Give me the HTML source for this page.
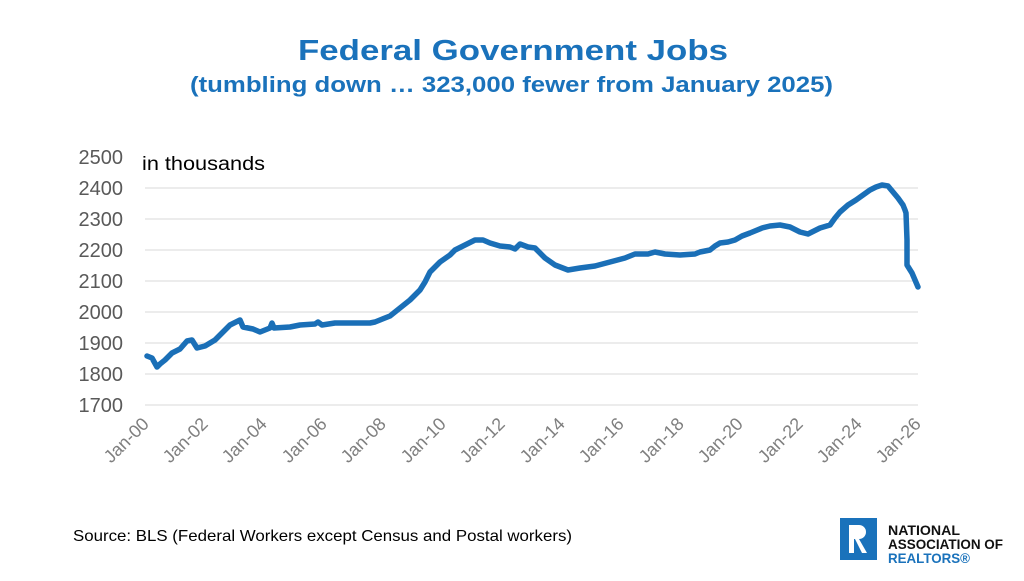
<!DOCTYPE html>
<html><head><meta charset="utf-8"><style>
body{margin:0;background:#fff;width:1024px;height:576px;overflow:hidden;font-family:"Liberation Sans",sans-serif}
</style></head><body>
<svg width="1024" height="576" viewBox="0 0 1024 576" xmlns="http://www.w3.org/2000/svg" font-family="Liberation Sans, sans-serif">
<text x="298" y="60" font-size="29" font-weight="bold" fill="#1a72bb" textLength="430" lengthAdjust="spacingAndGlyphs">Federal Government Jobs</text>
<text x="190" y="92" font-size="22" font-weight="bold" fill="#1a72bb" textLength="643" lengthAdjust="spacingAndGlyphs">(tumbling down … 323,000 fewer from January 2025)</text>
<g stroke="#d9d9d9" stroke-width="1">
<line x1="145" y1="188" x2="918" y2="188"/><line x1="145" y1="219" x2="918" y2="219"/>
<line x1="145" y1="250" x2="918" y2="250"/><line x1="145" y1="281" x2="918" y2="281"/>
<line x1="145" y1="312" x2="918" y2="312"/><line x1="145" y1="343" x2="918" y2="343"/>
<line x1="145" y1="374" x2="918" y2="374"/><line x1="145" y1="405" x2="918" y2="405"/>
</g>
<g font-size="20" fill="#595959" text-anchor="end">
<text x="123" y="164">2500</text><text x="123" y="195">2400</text><text x="123" y="226">2300</text>
<text x="123" y="257">2200</text><text x="123" y="288">2100</text><text x="123" y="319">2000</text>
<text x="123" y="350">1900</text><text x="123" y="381">1800</text><text x="123" y="412">1700</text>
</g>
<text x="142" y="170" font-size="19" fill="#000" textLength="123" lengthAdjust="spacingAndGlyphs">in thousands</text>
<g font-size="18" fill="#7f7f7f" text-anchor="end">
<text transform="translate(150,425) rotate(-45)">Jan-00</text>
<text transform="translate(209,425) rotate(-45)">Jan-02</text>
<text transform="translate(268,425) rotate(-45)">Jan-04</text>
<text transform="translate(328,425) rotate(-45)">Jan-06</text>
<text transform="translate(387,425) rotate(-45)">Jan-08</text>
<text transform="translate(447,425) rotate(-45)">Jan-10</text>
<text transform="translate(506,425) rotate(-45)">Jan-12</text>
<text transform="translate(566,425) rotate(-45)">Jan-14</text>
<text transform="translate(625,425) rotate(-45)">Jan-16</text>
<text transform="translate(685,425) rotate(-45)">Jan-18</text>
<text transform="translate(744,425) rotate(-45)">Jan-20</text>
<text transform="translate(804,425) rotate(-45)">Jan-22</text>
<text transform="translate(863,425) rotate(-45)">Jan-24</text>
<text transform="translate(922,425) rotate(-45)">Jan-26</text>
</g>
<polyline fill="none" stroke="#1a6fb7" stroke-width="5.5" stroke-linejoin="round" stroke-linecap="round" points="147,356 152,358 157,367 160,364 165,360 172,353 180,349 187,341 192,340 197,348 205,346 215,340 225,330 230,325 240,320 243,327 253,329 260,332 270,328 272,323 274,328 290,327 300,325 315,324 318,322 322,325 335,323 360,323 370,323 375,322 390,316 400,308 410,300 420,290 425,282 430,272 440,262 450,255 455,250 465,245 475,240 483,240 490,243 500,246 510,247 515,249 520,244 528,247 535,248 545,258 555,265 568,270 580,268 595,266 610,262 625,258 635,254 648,254 655,252 665,254 680,255 695,254 700,252 710,250 715,246 720,243 728,242 735,240 742,236 750,233 762,228 770,226 780,225 790,227 800,232 808,234 812,232 820,228 830,225 835,218 840,212 848,205 856,200 863,195 870,190 876,187 882,185 888,186 893,192 898,198 903,205 905,210 906,213 907,240 907,265 912,273 915,280 918,287"/>
<text x="73" y="541" font-size="16" fill="#000" textLength="499" lengthAdjust="spacingAndGlyphs">Source: BLS (Federal Workers except Census and Postal workers)</text>
<rect x="840" y="518" width="37" height="42" fill="#1a72bb"/>
<path d="M849 525 h10 a7 7 0 0 1 0 14 l8 14 h-5 l-7 -14 h-1 v14 h-5z" fill="#fff"/>
<text x="888" y="535" font-size="14" font-weight="bold" fill="#111" textLength="72" lengthAdjust="spacingAndGlyphs">NATIONAL</text>
<text x="888" y="549" font-size="14" font-weight="bold" fill="#111" textLength="115" lengthAdjust="spacingAndGlyphs">ASSOCIATION OF</text>
<text x="888" y="563" font-size="14" font-weight="bold" fill="#1a72bb" textLength="82" lengthAdjust="spacingAndGlyphs">REALTORS®</text>
</svg>
</body></html>
